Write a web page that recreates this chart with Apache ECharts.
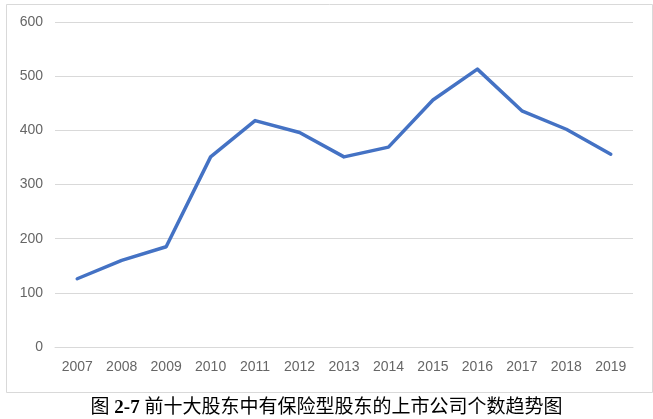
<!DOCTYPE html>
<html><head><meta charset="utf-8">
<script src="https://cdn.jsdelivr.net/npm/echarts@6/dist/echarts.min.js"></script>
<style>html,body{margin:0;padding:0;background:#fff}#c{width:653px;height:419px}</style>
</head><body><div id="c"></div>
<script>
const years = ['2007','2008','2009','2010','2011','2012','2013','2014','2015','2016','2017','2018','2019'];
const companyCounts = [126, 160, 185, 351, 418, 396, 351, 369, 456, 513, 436, 402, 356];
const yTicks = { min: 0, max: 600, interval: 100 };
const captionNo = '2-7';
const captionText = '前十大股东中有保险型股东的上市公司个数趋势图';

const chart = echarts.init(document.getElementById('c'), null, { renderer: 'canvas' });
chart.setOption({
  animation: false,
  backgroundColor: '#fff',
  title: {
    text: '图 {b|' + captionNo + '} ' + captionText,
    left: 'center',
    top: 394,
    textStyle: {
      fontFamily: '"Liberation Serif", "Noto Sans CJK SC", serif',
      fontSize: 19, fontWeight: 'normal', color: '#000',
      rich: { b: { fontFamily: '"Liberation Serif", serif', fontSize: 19, fontWeight: 'bold', color: '#000' } }
    }
  },
  graphic: [{
    type: 'rect', left: 4, top: 2, z: -1,
    shape: { width: 646, height: 388 },
    style: { fill: 'none', stroke: '#d9d9d9', lineWidth: 1 }
  }],
  grid: { left: 55, right: 20, top: 22, bottom: 72 },
  xAxis: {
    type: 'category', data: years, boundaryGap: true,
    axisLine: { show: true, lineStyle: { color: '#d9d9d9' } },
    axisTick: { show: false },
    axisLabel: { color: '#666666', fontSize: 14, fontFamily: 'Arial, "Liberation Sans", sans-serif', margin: 13 }
  },
  yAxis: {
    type: 'value', min: yTicks.min, max: yTicks.max, interval: yTicks.interval,
    axisLine: { show: false }, axisTick: { show: false },
    splitLine: { lineStyle: { color: '#d9d9d9', width: 1 } },
    axisLabel: { color: '#666666', fontSize: 14, fontFamily: 'Arial, "Liberation Sans", sans-serif', margin: 12 }
  },
  series: [{
    type: 'line', data: companyCounts, symbol: 'none',
    lineStyle: { color: '#4472C4', width: 3.5, cap: 'round', join: 'round' }
  }]
});
</script></body></html>
